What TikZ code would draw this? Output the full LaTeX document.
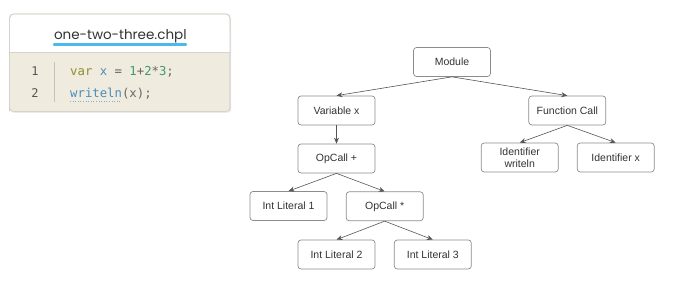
\documentclass[tikz,border=0pt]{standalone}
\usepackage{fontspec}
\setmainfont{Liberation Sans}
\newfontfamily\titlefont{Poppins}
\newfontfamily\codefont{DejaVu Sans Mono}
\usetikzlibrary{arrows.meta}
\definecolor{boxline}{HTML}{8C8C8C}
\definecolor{txt}{HTML}{333333}
\definecolor{arrowc}{HTML}{555555}
\definecolor{codebg}{HTML}{EFEBDF}
\definecolor{codeborder}{HTML}{D6D3CC}
\definecolor{ulblue}{HTML}{4DB8EA}
\definecolor{kwolive}{HTML}{8E8E2C}
\definecolor{idblue}{HTML}{4A8DBA}
\definecolor{numgreen}{HTML}{3E9C6C}
\definecolor{opgray}{HTML}{666666}
\definecolor{lnum}{HTML}{555555}
\tikzset{
  astnode/.style={draw=boxline, line width=0.7pt, rounded corners=3pt, fill=white,
    minimum width=77pt, minimum height=29pt, inner sep=1pt, text=txt,
    font=\fontsize{10.5}{12}\selectfont, align=center},
  edge/.style={draw=arrowc, line width=0.6pt, -{Stealth[length=6pt,width=5pt]}},
}
\begin{document}
\begin{tikzpicture}[x=1pt,y=-1pt]
\useasboundingbox (0,0) rectangle (680,294);
% code box
\fill[black!8, rounded corners=4pt] (10,15) rectangle (231,113);
\path[fill=codebg, draw=codeborder, line width=0.8pt, rounded corners=4pt] (9.5,14) rectangle (230,111.5);
\path[fill=white, rounded corners=4pt] (10,14.5) -- (229.5,14.5) -- (229.5,52) -- (10,52) -- cycle;
\path[fill=white] (10,30) rectangle (229.5,52);
\draw[codeborder, line width=0.8pt, rounded corners=4pt] (9.5,111.5) -- (9.5,14) -- (230,14) -- (230,111.5);
\draw[codeborder, line width=0.8pt] (9.5,52) -- (230,52);
\node[anchor=base, inner sep=0pt, text=txt] (title) at (120.3,40) {\titlefont\fontsize{13.5}{15}\selectfont one-two-three.chpl};
\draw[ulblue, line width=2.5pt, line cap=round] (54,44.5) -- (186,44.5);
\draw[codeborder!80!gray, line width=0.8pt] (54.3,62) -- (54.3,102);
\node[anchor=base, inner sep=0pt, text=lnum] (l1) at (35,75.5) {\codefont\fontsize{12}{14}\selectfont 1};
\node[anchor=base, inner sep=0pt, text=lnum] (l2) at (35,98) {\codefont\fontsize{12}{14}\selectfont 2};
\node[anchor=base west, inner sep=0pt] (c1) at (70,75.5) {\codefont\fontsize{12.3}{14}\selectfont\color{kwolive}var \color{idblue}x \color{opgray}= \color{numgreen}1\color{opgray}+\color{numgreen}2\color{opgray}*\color{numgreen}3\color{opgray};};
\node[anchor=base west, inner sep=0pt] (c2) at (70,98) {\codefont\fontsize{12.3}{14}\selectfont\color{idblue}writeln\color{opgray}(x);};
\draw[idblue!70, line width=0.6pt, dotted] (70,101) -- (121.5,101);
% AST
\node[astnode] (module) at (452,62) {Module};
\node[astnode] (var) at (336.5,110.5) {Variable x};
\node[astnode] (fcall) at (567.3,110.5) {Function Call};
\node[astnode] (idw) at (519.7,157.5) {Identifier\\writeln};
\node[astnode] (idx) at (615.7,157.5) {Identifier x};
\node[astnode] (opplus) at (336.5,158.5) {OpCall +};
\node[astnode] (lit1) at (288.5,206) {Int Literal 1};
\node[astnode] (optimes) at (384.7,206.3) {OpCall *};
\node[astnode] (lit2) at (336.5,254.5) {Int Literal 2};
\node[astnode] (lit3) at (432.8,254.5) {Int Literal 3};
\draw[edge] (module.south) -- (var.north);
\draw[edge] (module.south) -- (fcall.north);
\draw[edge] (var.south) -- (opplus.north);
\draw[edge] (fcall.south) -- (idw.north);
\draw[edge] (fcall.south) -- (idx.north);
\draw[edge] (opplus.south) -- (lit1.north);
\draw[edge] (opplus.south) -- (optimes.north);
\draw[edge] (optimes.south) -- (lit2.north);
\draw[edge] (optimes.south) -- (lit3.north);
\end{tikzpicture}
\end{document}
